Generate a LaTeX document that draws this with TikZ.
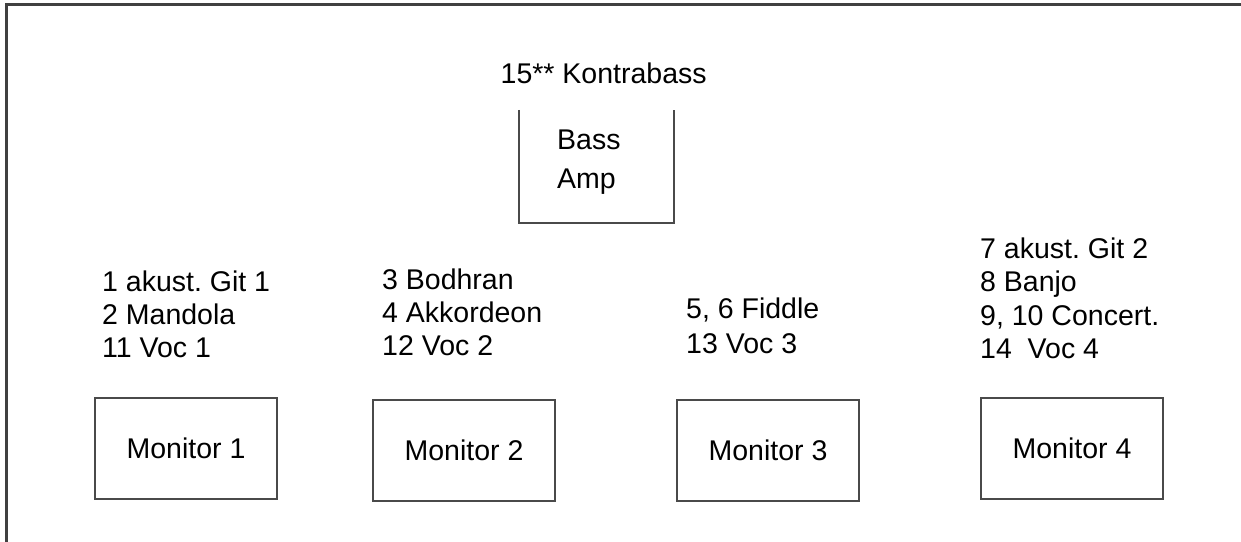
\documentclass[tikz,border=0pt]{standalone}
\usepackage{fontspec}
\setmainfont{Liberation Sans}
\frenchspacing
\tikzset{%
	monitor/.style  = {draw=boxgray, line width=2bp, rectangle, inner sep=0pt,
		minimum width=182bp, minimum height=101bp},
	ampbox/.style   = {rectangle, inner sep=0pt, minimum width=155bp,
		minimum height=113bp}, % Bass amp, open at the top
	chlist/.style   = {anchor=north west, inner sep=0pt, align=left}, % Channel list
	frame/.style    = {draw=framegray, line width=3bp} % Stage border
}
\definecolor{boxgray}{HTML}{4A4A4A}
\definecolor{framegray}{HTML}{404040}

\begin{document}
\begin{tikzpicture}[x=1bp,y=-1bp,font=\fontsize{28.5bp}{33bp}\selectfont]
			\path[use as bounding box, fill=white] (0,0) rectangle (1241,542);
			\coordinate (corner) at (6.5,5);
			\draw[frame] (1241,5) -- (corner) -- (6.5,542);

			% bass amp
			\node[chlist] (kontra) at (500.5,62.6) {15** Kontrabass};
			\node[ampbox] (amp) at (596.5,166.5) {};
			\draw[draw=boxgray, line width=2bp] (amp.north west) -- (amp.south west)
				-- (amp.south east) -- (amp.north east);
			\node[chlist, font=\fontsize{28.5bp}{39bp}\selectfont] (amptext) at (557,129.6) {Bass\\Amp};

			% channel lists
			\node[chlist] (ch1) at (102,270.6) {1 akust. Git 1\\2 Mandola\\11 Voc 1};
			\node[chlist] (ch2) at (382,268.6) {3 Bodhran\\4 Akkordeon\\12 Voc 2};
			\node[chlist, font=\fontsize{28.5bp}{35bp}\selectfont] (ch3) at (686,297.6) {5, 6 Fiddle\\13 Voc 3};
			\node[chlist, font=\fontsize{28.5bp}{33.4bp}\selectfont] (ch4) at (980,237.6) {7 akust. Git 2\\8 Banjo\\9, 10 Concert.\\14~~Voc 4};

			% monitors
			\node[monitor] (mon1) at (186,448.5) {Monitor 1};
			\node[monitor] (mon2) at (464,450.5) {Monitor 2};
			\node[monitor] (mon3) at (768,450.5) {Monitor 3};
			\node[monitor] (mon4) at (1072,448.5) {Monitor 4};
		\end{tikzpicture}
\end{document}
